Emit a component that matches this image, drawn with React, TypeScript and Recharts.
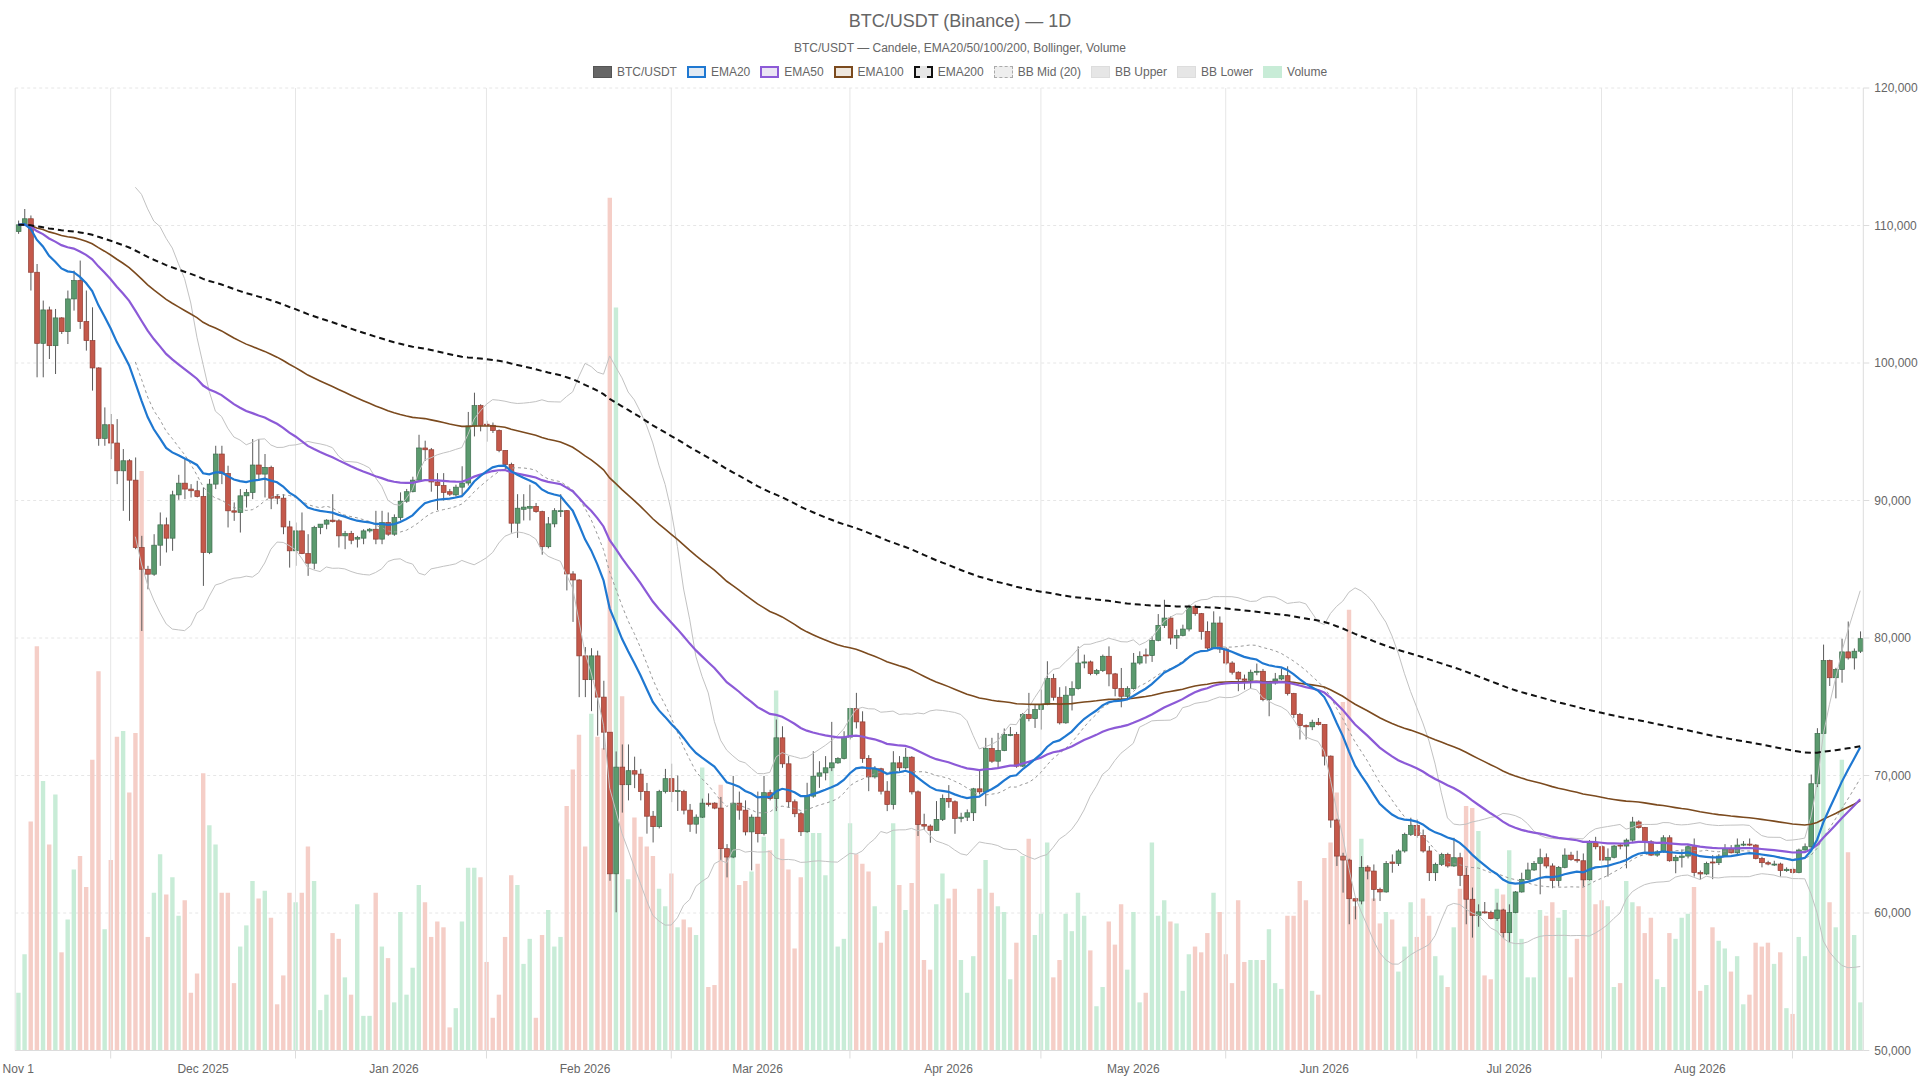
import React from 'react';
import { ComposedChart, Bar, Line, XAxis, YAxis, CartesianGrid, ReferenceLine, Cell } from 'recharts';

// ---- Daily candles, 1 Nov 2025 .. 27 Aug 2026 (300 days) ----
const opens = [
  109560,110070,110490,106600,101430,103860,101260,103280,102280,104660,
  106000,103010,101630,99640,94520,95510,94180,92160,92890,91480,
  86580,85000,84640,86750,88230,87260,90410,91260,90830,90710,
  90290,86220,91190,93380,91970,89250,89130,90340,90580,92580,
  91920,92410,90290,90170,88080,86340,87790,86140,85440,88040,
  88280,88570,88520,87430,87600,87190,87260,87790,87910,87190,
  88400,87550,88760,89950,90640,91480,93820,93690,91350,91090,
  90640,90410,90970,91270,95420,96900,95550,95470,95090,93640,
  92620,88350,89360,89440,89570,89190,86640,88300,89230,89260,
  84660,84220,78700,76970,78700,75700,73150,62850,70610,69330,
  70350,70100,68830,67040,66280,68830,69770,68830,68830,67480,
  66460,66970,67990,67990,67630,64680,64070,67990,67480,65900,
  66970,65770,68750,68320,72740,70850,68090,67220,65910,68500,
  69950,70190,70560,70920,71240,72790,74870,73900,71240,69900,
  70490,68860,67890,70920,70560,71330,68810,66440,66320,66010,
  66810,68330,68090,66880,66970,67290,69030,68810,71960,71040,
  71820,72930,72980,70680,74430,74140,74800,75160,77050,75690,
  73830,75840,76320,78180,78260,77410,77630,78670,77390,76320,
  75760,76320,78180,78770,78720,79830,80920,81450,80000,80190,
  80650,82300,81770,80480,79270,81090,79200,78180,77510,77020,
  76930,77510,77580,75520,76730,77020,77260,75960,74430,73630,
  73540,73870,73710,71410,66760,64140,63850,61040,60870,63300,
  63050,61720,61530,63710,63610,64510,65720,66370,65640,64510,
  62930,63540,64260,63420,64020,62740,61000,59830,60080,60030,
  59590,60220,58570,60030,61530,62450,63130,63610,64020,63420,
  62360,63320,64210,63900,63800,62410,65110,64820,63850,64050,
  64940,64870,65300,66620,66210,65180,64210,64450,65470,63800,
  64050,64140,64820,62940,62840,63710,63660,64140,64700,64380,
  64940,65010,64940,63970,63660,63490,63560,63080,63180,62940,
  64580,64820,69400,73060,78360,77110,77710,78990,78550,79040,
];

const highs = [
  110360,111200,110730,107200,104540,104100,103930,103330,105270,106720,
  107450,105270,104050,99690,96770,96290,95920,93740,93010,93130,
  87430,85250,87550,89130,88760,90710,91870,93010,91190,91430,
  90950,91560,93980,93980,92530,89860,90830,90830,94470,94470,
  93380,92530,90460,90460,88520,88400,89130,87550,88160,88280,
  88640,90460,88640,87790,87790,87430,87910,88000,89250,89250,
  89130,88990,90590,90840,91730,94780,94350,93820,91990,91990,
  90840,91150,92490,96440,97840,97000,95800,95670,95170,93640,
  92750,90460,90460,91150,89820,89260,88800,89440,90460,89310,
  84860,84270,79340,79260,79080,76890,73150,71750,72260,72260,
  71370,70480,69460,67420,68960,70480,70860,70000,68960,67930,
  67170,68320,68700,68060,68440,65010,69970,68830,68190,67170,
  68830,69970,68960,74070,73580,71410,68260,67360,69470,71770,
  71040,71410,73900,71330,73220,74920,76010,74670,71480,70680,
  70560,69590,71770,71410,72010,71410,68910,67220,66440,68140,
  68620,69300,68190,67290,67530,69100,70440,72740,72740,73100,
  73420,73530,73170,74550,76010,75120,76250,78310,77390,76420,
  76490,76850,79390,78790,78360,77750,78790,79390,77460,77820,
  76490,78910,79030,79230,80120,81740,82780,81570,80610,80970,
  82420,82420,81820,81210,81940,81570,79340,78310,77580,77340,
  77700,78140,77750,76780,77460,77750,77940,76010,74550,73710,
  74060,74180,73710,71460,66860,64380,63950,61110,64140,63470,
  63530,61840,63780,64260,64630,65840,66930,66810,66070,64870,
  63660,64380,64380,65470,64380,63300,61850,60630,60800,60170,
  60750,60310,60630,61600,62930,63660,63780,64680,64330,63610,
  63420,64700,64450,64530,64330,65300,65540,64940,64700,64940,
  65010,65420,66990,66740,66260,65300,64570,65660,65660,64210,
  64620,64940,65420,63090,63730,64210,64280,65010,64940,65420,
  65230,65420,65010,64090,63800,63800,63660,63320,63300,64680,
  65060,70070,73440,79520,78430,77830,79950,81200,79240,80480,
];

const lows = [
  109390,110000,105270,98960,98960,100290,99200,102110,101380,103810,
  102480,100900,97990,93980,93980,93010,91190,89250,88520,86460,
  80510,83540,84520,85250,86220,86340,90050,90100,90220,90220,
  83790,86100,90830,91190,88040,88520,87670,89490,90100,91430,
  90220,89370,89730,87550,85120,85250,86100,84520,85000,87550,
  87910,88400,86580,86460,86820,86580,86820,87670,86820,86820,
  87430,87430,88550,89830,90590,91350,92880,90640,89310,90000,
  90330,90280,90330,91090,94660,95030,94280,94910,93510,92240,
  87660,87280,88550,88550,89110,86060,86520,88050,88800,83460,
  81170,75700,75700,74680,72900,71880,62340,60050,67300,68190,
  69080,68190,65770,65130,66150,68700,68060,67420,67170,65900,
  65770,66910,67740,67550,63860,62590,63990,66780,65640,63100,
  65130,65640,68190,67410,70560,67650,66970,65600,65840,68380,
  69100,69650,70320,70850,71170,72620,73420,70920,68860,69780,
  68620,67410,67530,70320,70440,68620,65600,66050,65110,65960,
  66690,67650,65760,66600,66690,66690,68620,67770,70920,70560,
  71770,72860,70560,70610,73940,73460,73340,75110,75450,73710,
  73760,74730,76250,77800,77290,77290,77530,76490,75760,74960,
  75520,76250,78060,78140,78260,79760,80730,79520,79200,80120,
  80480,81620,79880,79150,79200,78910,78060,77340,76130,76250,
  76300,77290,75400,74310,76610,76930,75820,74190,72620,72620,
  73300,73640,70730,66200,63420,61480,59180,59540,60630,62450,
  60870,60870,61480,62930,63420,64390,65600,65470,64390,62330,
  62330,63420,63300,63350,61960,59180,58210,59000,59950,59540,
  59420,58210,57850,59980,61480,62400,63060,61360,63250,61800,
  61930,63250,63800,63660,61930,62360,64630,63800,62650,63970,
  64630,63250,65180,66140,64450,64140,64090,64380,63730,62890,
  63310,63970,62650,62410,62770,62460,63490,64090,64330,64280,
  64860,64860,63900,63320,63470,63420,62650,62990,62840,62890,
  64530,64700,69160,73010,76510,75610,76750,78430,77710,78910,
];

const closes = [
  110050,110490,106600,101430,103860,101260,103280,102280,104660,106000,
  103010,101630,99640,94520,95510,94180,92160,92890,91480,86580,
  85000,84640,86750,88230,87260,90410,91260,90830,90710,90290,
  86220,91190,93380,91970,89250,89150,90340,90580,92580,91920,
  92410,90170,90170,88080,86340,87790,86140,85440,88040,88280,
  88570,88470,87430,87600,87110,87310,87790,87910,87190,88400,
  87550,88760,89950,90640,91480,93820,93690,91350,91090,90590,
  90460,90970,91270,95420,96900,95470,95470,95090,93640,92620,
  88350,89440,89520,89570,89190,86640,88300,89260,89260,84660,
  84220,78700,76970,78700,75700,73150,62850,70610,69330,70350,
  70100,68830,67040,66280,68830,69770,68830,68900,67480,66460,
  66970,67990,67890,67630,64680,64070,67990,67480,65900,66970,
  65770,68750,68320,72740,70850,68090,67220,65910,68500,69950,
  70190,70560,70920,71240,72790,74870,73900,71240,69900,70490,
  68860,67890,70920,70560,71330,68810,66440,66320,66010,66810,
  68330,68090,66880,66970,67290,69030,68810,71960,71040,71820,
  72980,72980,70680,74430,74140,74800,75160,77050,75690,73830,
  75840,76320,78180,78260,77410,77630,78670,77390,76320,75760,
  76320,78180,78670,78720,79830,80920,81450,80000,80190,80650,
  82300,81770,80480,79270,81090,79200,78180,77510,77020,76930,
  77510,77580,75520,76730,77020,77260,75960,74430,73630,73540,
  73870,73710,71410,66760,64140,63850,61040,60870,63300,63050,
  61720,61530,63610,63610,64510,65720,66370,65640,64510,62930,
  63540,64260,63420,64020,62740,61000,59830,60080,60030,59590,
  60220,58570,60030,61530,62450,63130,63610,64020,63420,62360,
  63320,64210,63900,63800,62410,65110,64820,63850,64050,64870,
  64870,65300,66620,66210,65180,64210,64450,65470,63800,64050,
  64140,64820,62940,62840,63610,63660,64140,64700,64380,64940,
  65010,64940,63970,63660,63560,63560,63080,63180,62940,64580,
  64820,69400,73060,78360,77110,77710,78990,78550,79040,79950,
];

const volumes = [
  3000,5000,11900,21000,14000,10700,13300,5100,6800,9400,
  10100,8500,15100,19700,6300,9900,16300,16600,13400,16500,
  30100,5900,8200,10200,8100,9000,7000,7800,3000,4000,
  14400,11700,10700,8200,8200,3500,5400,6500,8800,7900,
  8300,6900,2400,3900,8200,7700,8200,10600,8800,2100,
  2900,6100,5800,3800,2900,7600,1800,1800,8200,5400,
  4800,2500,7200,2900,4300,8600,7700,5900,6700,6400,
  1200,2200,6700,9500,9500,9000,4600,1700,2900,5900,
  9100,8600,4500,5800,1700,6000,7300,5400,5900,12700,
  14600,16400,10600,17500,16300,15700,44300,38600,18400,8900,
  12100,11100,10600,10100,8400,7500,9200,6400,6800,6400,
  6000,14700,3300,3400,13800,10300,10400,8600,8800,9300,
  9700,11100,10400,18700,11000,9400,5300,9000,11400,11300,
  11300,9100,14700,5400,5800,11800,10200,9700,9300,7500,
  5600,6200,11800,8600,7300,8700,12000,4700,4200,7600,
  9200,7900,8400,4700,3000,4900,8400,9900,8200,7500,
  7200,3700,5600,10100,11000,6000,7100,10800,3800,4700,
  7100,6200,8200,7000,5200,2300,3300,6700,5500,7600,
  4200,7200,2500,3000,10800,7000,7800,6700,6600,3100,
  5000,5400,5100,6100,8200,7200,5000,3500,7800,4600,
  4700,4700,4700,6300,3500,3200,7000,7000,8800,7800,
  3100,2900,10000,10800,13400,18100,22900,7500,11000,9600,
  7900,6600,7200,6800,4100,5400,7700,5900,7900,7000,
  4900,3900,3300,6400,8400,12700,12600,11400,3900,3700,
  8400,8100,10400,7300,5800,3800,3800,7300,7000,7700,
  6900,7300,3800,5800,8900,8800,7600,7800,7500,3300,
  3500,8800,7700,7500,6100,6900,3700,3300,6100,5800,
  6900,7100,8500,3100,3400,6400,5700,5300,4100,4900,
  2400,2900,5600,5400,5600,4500,5100,2200,1900,5900,
  4900,13200,16400,19000,7700,6400,15100,10300,6000,2500,
];

// ---- Axis labels ----
const monthTickIdx = [0, 30, 61, 92, 120, 151, 181, 212, 242, 273];
const monthTickText = ['Nov 1', 'Dec 2025', 'Jan 2026', 'Feb 2026', 'Mar 2026', 'Apr 2026', 'May 2026', 'Jun 2026', 'Jul 2026', 'Aug 2026'];
const midMonthIdx = [15, 45, 76, 106, 135, 166, 196, 227, 257, 288];
const priceTicks = [50000, 60000, 70000, 80000, 90000, 100000, 110000, 120000];

const START_UTC = Date.UTC(2025, 10, 1);
const dates = closes.map((_, i) => new Date(START_UTC + i * 86400000).toISOString().slice(0, 10));

// ---- Indicators ----
function ema(src: number[], n: number): number[] {
  const k = 2 / (n + 1);
  const out: number[] = [];
  let prev = src[0];
  src.forEach((v, i) => {
    prev = i === 0 ? v : v * k + prev * (1 - k);
    out.push(prev);
  });
  return out;
}
function bollinger(src: number[], n: number, mult: number) {
  const mid: (number | null)[] = [];
  const up: (number | null)[] = [];
  const lo: (number | null)[] = [];
  src.forEach((_, i) => {
    if (i < n - 1) { mid.push(null); up.push(null); lo.push(null); return; }
    const win = src.slice(i - n + 1, i + 1);
    const m = win.reduce((a, b) => a + b, 0) / n;
    const sd = Math.sqrt(win.reduce((a, b) => a + (b - m) * (b - m), 0) / n);
    mid.push(m); up.push(m + mult * sd); lo.push(m - mult * sd);
  });
  return { mid, up, lo };
}

const ema20 = ema(closes, 20);
const ema50 = ema(closes, 50);
const ema100 = ema(closes, 100);
const ema200 = ema(closes, 200);
const bb = bollinger(closes, 20, 2);

const data = closes.map((c, i) => ({
  i,
  date: dates[i],
  o: opens[i], h: highs[i], l: lows[i], c,
  range: [lows[i], highs[i]],
  v: volumes[i],
  ema20: ema20[i], ema50: ema50[i], ema100: ema100[i], ema200: ema200[i],
  bbMid: bb.mid[i], bbUp: bb.up[i], bbLo: bb.lo[i],
}));

const UP_FILL = '#5b9a6e';
const UP_EDGE = '#3f6e4f';
const DN_FILL = '#c4584a';
const DN_EDGE = '#8f3d32';
const VOL_UP = '#c8ecd7';
const VOL_DN = '#f5cec7';

const Candle = (props: any) => {
  const { x, y, width, height, payload } = props;
  if (!payload || width == null) return null;
  const { o, h, l, c } = payload;
  const top = Math.min(y, y + height);
  const hh = Math.abs(height);
  const span = h - l || 1;
  const yOf = (val: number) => top + ((h - val) / span) * hh;
  const cx = x + width / 2;
  const up = c >= o;
  const bTop = yOf(Math.max(o, c));
  const bBot = yOf(Math.min(o, c));
  return (
    <g>
      <line x1={cx} x2={cx} y1={top} y2={top + hh} stroke="#5a5a5a" strokeWidth={1} />
      <rect x={x} y={bTop} width={width} height={Math.max(1, bBot - bTop)}
        fill={up ? UP_FILL : DN_FILL} stroke={up ? UP_EDGE : DN_EDGE} strokeWidth={0.7} />
    </g>
  );
};

const XTick = (props: any) => {
  const { x, y, payload } = props;
  const idx = monthTickIdx.indexOf(payload.value);
  if (idx >= 0) {
    return (
      <text x={x} y={y + 22.5} textAnchor="middle" fill="#666" fontSize={12}>{monthTickText[idx]}</text>
    );
  }
  return <line x1={x} x2={x} y1={y} y2={y + 8} stroke="#dcdcdc" strokeWidth={1} />;
};

const allXTicks = [...monthTickIdx, ...midMonthIdx].sort((a, b) => a - b);

const legendItems = [
  { label: 'BTC/USDT', fill: '#666666', border: '1px solid #555' },
  { label: 'EMA20', fill: '#e2eaf3', border: '2px solid #1f78d1' },
  { label: 'EMA50', fill: '#ebe5f4', border: '2px solid #8c5ad7' },
  { label: 'EMA100', fill: '#efe7de', border: '2px solid #7b4a1e' },
  { label: 'EMA200', fill: '#e6e6e6', border: '2px dashed #111' },
  { label: 'BB Mid (20)', fill: '#eeeeee', border: '1px dashed #aaa' },
  { label: 'BB Upper', fill: '#e6e6e6', border: '1px solid #dddddd' },
  { label: 'BB Lower', fill: '#e6e6e6', border: '1px solid #dddddd' },
  { label: 'Volume', fill: VOL_UP, border: '1px solid ' + VOL_UP },
];

export default function App() {
  return (
    <div style={{ position: 'absolute', left: 0, top: 0, width: 1920, height: 1080, background: '#fff', fontFamily: '"Liberation Sans", Arial, Helvetica, sans-serif', color: '#666' }}>
      <div style={{ position: 'absolute', left: 0, top: 0, width: 1920, height: 1080 }}>
        <ComposedChart width={1920} height={1080} data={data} margin={{ top: 88, right: 6.7, bottom: 9.5, left: 15.2 }}>
          <CartesianGrid xAxisId="c" yAxisId="price" vertical={false} stroke="#e6e6e6" strokeDasharray="3 3" />
          <XAxis xAxisId="c" dataKey="i" type="category" ticks={allXTicks} interval={0} tick={<XTick />}
            tickLine={false} tickSize={0} tickMargin={0} axisLine={{ stroke: '#dcdcdc' }} height={20} />
          <XAxis xAxisId="v" dataKey="i" type="category" hide />
          <YAxis yAxisId="price" orientation="right" domain={[50000, 120000]} ticks={priceTicks} width={50}
            allowDataOverflow tickFormatter={(v: number) => v.toLocaleString('en-US')}
            tick={{ fill: '#666', fontSize: 12 }} tickLine={{ stroke: '#dcdcdc' }} axisLine={{ stroke: '#dcdcdc' }}
            tickSize={6} tickMargin={5} />
          <YAxis yAxisId="vol" hide domain={[0, 50000]} />

          <ReferenceLine xAxisId="c" yAxisId="price" x={0} position="start" stroke="#e3e3e3" />
          {midMonthIdx.map((m) => (
            <ReferenceLine key={'g' + m} xAxisId="c" yAxisId="price" x={m} stroke="#e6e6e6" />
          ))}

          <Bar xAxisId="v" yAxisId="vol" dataKey="v" barSize={4.4} isAnimationActive={false}>
            {data.map((d) => (
              <Cell key={'v' + d.i} fill={d.c >= d.o ? VOL_UP : VOL_DN} />
            ))}
          </Bar>

          <Line xAxisId="c" yAxisId="price" dataKey="bbUp" stroke="#c2c2c2" strokeWidth={1} dot={false} isAnimationActive={false} />
          <Line xAxisId="c" yAxisId="price" dataKey="bbLo" stroke="#c2c2c2" strokeWidth={1} dot={false} isAnimationActive={false} />
          <Line xAxisId="c" yAxisId="price" dataKey="bbMid" stroke="#999" strokeWidth={1} strokeDasharray="3 3" dot={false} isAnimationActive={false} />

          <Bar xAxisId="c" yAxisId="price" dataKey="range" barSize={4.8} shape={<Candle />} isAnimationActive={false} />

          <Line xAxisId="c" yAxisId="price" dataKey="ema100" stroke="#7b4a1e" strokeWidth={1.6} dot={false} isAnimationActive={false} />
          <Line xAxisId="c" yAxisId="price" dataKey="ema50" stroke="#8c5ad7" strokeWidth={2.2} dot={false} isAnimationActive={false} />
          <Line xAxisId="c" yAxisId="price" dataKey="ema20" stroke="#1f78d1" strokeWidth={2.2} dot={false} isAnimationActive={false} />
          <Line xAxisId="c" yAxisId="price" dataKey="ema200" stroke="#111" strokeWidth={2} strokeDasharray="6 4" dot={false} isAnimationActive={false} />
        </ComposedChart>
      </div>

      <div style={{ position: 'absolute', left: 0, top: 10, width: 1920, textAlign: 'center', fontSize: 18, lineHeight: '22px', color: '#666' }}>
        BTC/USDT (Binance) — 1D
      </div>
      <div style={{ position: 'absolute', left: 0, top: 40, width: 1920, textAlign: 'center', fontSize: 12, lineHeight: '16px', color: '#666' }}>
        BTC/USDT — Candele, EMA20/50/100/200, Bollinger, Volume
      </div>
      <div style={{ position: 'absolute', left: 0, top: 63, width: 1920, height: 18, display: 'flex', justifyContent: 'center', alignItems: 'center', fontSize: 12, color: '#666' }}>
        {legendItems.map((it, k) => (
          <div key={it.label} style={{ display: 'flex', alignItems: 'center', marginLeft: k === 0 ? 0 : 10 }}>
            <span style={{ display: 'inline-block', width: 19, height: 12, boxSizing: 'border-box', background: it.fill, border: it.border, marginRight: 5 }} />
            <span style={{ lineHeight: '16px' }}>{it.label}</span>
          </div>
        ))}
      </div>
    </div>
  );
}
